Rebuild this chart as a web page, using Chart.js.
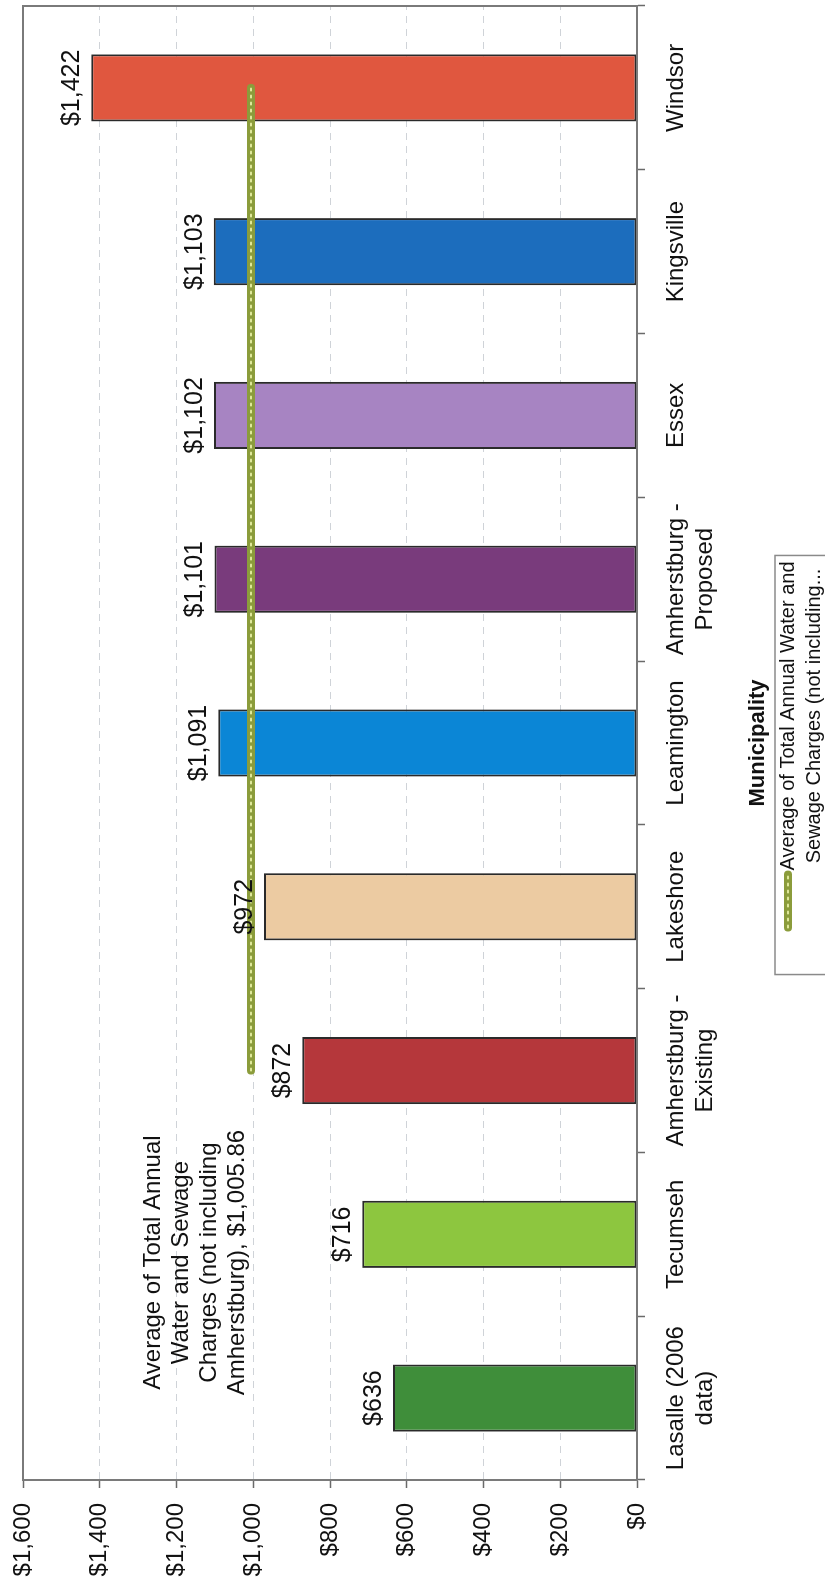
<!DOCTYPE html>
<html>
<head>
<meta charset="utf-8">
<script src="https://cdn.jsdelivr.net/npm/chart.js@4.4.1/dist/chart.umd.min.js"></script>
<style>
  body { margin: 0; width: 825px; height: 1583px; overflow: hidden; background: #fff; }
  #wrap {
    position: absolute; left: 0; top: 0; width: 1583px; height: 825px;
    transform-origin: 0 0; transform: translate(0, 1583px) rotate(-90deg);
  }
</style>
</head>
<body>
<div id="wrap"><canvas id="chargesChart" width="1583" height="825" style="width:1583px;height:825px"></canvas></div>
<script>
const municipalities = [
    ['Lasalle (2006', 'data)'],
    'Tecumseh',
    ['Amherstburg -', 'Existing'],
    'Lakeshore',
    'Leamington',
    ['Amherstburg -', 'Proposed'],
    'Essex',
    'Kingsville',
    'Windsor',
];
const annualCharges = [636, 716, 872, 972, 1091, 1101, 1102, 1103, 1422];
const barColors = ['#3f8e3a', '#8dc63f', '#b5373b', '#eccba2', '#0b86d6', '#793b7c', '#a784c2', '#1c6dbd', '#e0573f'];
const averageCharge = [null, null, 1005.86, 1005.86, 1005.86, 1005.86, 1005.86, 1005.86, 1005.86];
const averageNote = ['Average of Total Annual', 'Water and Sewage', 'Charges (not including', 'Amherstburg), $1,005.86'];
const legendText = ['Average of Total Annual Water and', 'Sewage Charges (not including...'];
const valueTicks = [0, 200, 400, 600, 800, 1000, 1200, 1400, 1600];

const FONT = '"Liberation Sans", Arial, sans-serif';

// wanted plot box on the unrotated canvas
const AREA = { left: 103, top: 23, right: 1577, bottom: 637 };
let yAxisWidth = 103;
let xAxisHeight = 134;

function money(v) {
    return '$' + v.toLocaleString('en-US');
}

// dotted olive line used for the average series and its legend key
function drawAvgStroke(ctx, x1, y1, x2, y2) {
    ctx.save();
    ctx.lineCap = 'round';
    ctx.strokeStyle = '#8b9c3b';
    ctx.lineWidth = 8;
    ctx.beginPath(); ctx.moveTo(x1, y1); ctx.lineTo(x2, y2); ctx.stroke();
    ctx.strokeStyle = '#dfe89a';
    ctx.lineWidth = 2;
    ctx.setLineDash([2, 5]);
    ctx.beginPath(); ctx.moveTo(x1, y1); ctx.lineTo(x2, y2); ctx.stroke();
    ctx.restore();
}

const framePlugin = {
    id: 'frame',
    afterDatasetsDraw(chart) {
        const { ctx, chartArea: a } = chart;
        ctx.save();
        ctx.strokeStyle = '#7a7a7a';
        ctx.lineWidth = 2;
        ctx.strokeRect(a.left, a.top, a.right - a.left, a.bottom - a.top);
        ctx.restore();
    },
};

const avgLinePlugin = {
    id: 'avgLine',
    afterDatasetsDraw(chart) {
        const pts = chart.getDatasetMeta(1).data.filter((p, i) => averageCharge[i] !== null);
        if (!pts.length) return;
        const first = pts[0], last = pts[pts.length - 1];
        drawAvgStroke(chart.ctx, first.x, first.y, last.x, last.y);
    },
};

const labelPlugin = {
    id: 'barLabels',
    afterDraw(chart) {
        const ctx = chart.ctx;
        ctx.save();
        ctx.fillStyle = '#111';
        ctx.font = '25px ' + FONT;
        ctx.textAlign = 'center';
        ctx.textBaseline = 'alphabetic';
        chart.getDatasetMeta(0).data.forEach((bar, i) => {
            ctx.fillText(money(annualCharges[i]), bar.x, bar.y - 12);
        });

        // note next to the start of the average line
        const pts = chart.getDatasetMeta(1).data.filter((p, i) => averageCharge[i] !== null);
        const p = pts[0];
        ctx.font = '24px ' + FONT;
        averageNote.forEach((line, i) => {
            ctx.fillText(line, p.x - 192, p.y - 7 - 28 * (averageNote.length - 1 - i));
        });
        ctx.restore();
    },
};

const legendPlugin = {
    id: 'boxLegend',
    afterDraw(chart) {
        const { ctx, chartArea: a } = chart;
        ctx.save();
        ctx.font = '20px ' + FONT;
        const textW = Math.max(...legendText.map(t => ctx.measureText(t).width));
        const boxW = 47 + 53 + 4 + textW + 6;
        const boxL = (a.left + a.right) / 2 - 22 - boxW / 2;
        const boxT = 775;
        ctx.strokeStyle = '#8a8a8a';
        ctx.lineWidth = 1.5;
        ctx.strokeRect(boxL, boxT, boxW, 120);
        const mx = boxL + 47;
        drawAvgStroke(ctx, mx, boxT + 13, mx + 53, boxT + 13);
        ctx.fillStyle = '#111';
        ctx.textAlign = 'center';
        ctx.textBaseline = 'middle';
        const cx = mx + 57 + textW / 2;
        legendText.forEach((t, i) => ctx.fillText(t, cx, boxT + 13 + 26 * i));
        ctx.restore();
    },
};

let ctx = document.getElementById('chargesChart').getContext('2d');
let chargesChart = new Chart(ctx, {
    type: 'bar',
    data: {
        labels: municipalities,
        datasets: [
            {
                label: 'Total Annual Water and Sewage Charges',
                data: annualCharges,
                backgroundColor: barColors,
                borderColor: '#2a2a2a',
                borderWidth: 2,
                borderSkipped: false,
                categoryPercentage: 1,
                barPercentage: 0.41,
                order: 2,
            },
            {
                label: 'Average of Total Annual Water and Sewage Charges (not including Amherstburg)',
                data: averageCharge,
                type: 'line',
                borderColor: 'rgba(0,0,0,0)',
                borderWidth: 0,
                pointRadius: 0,
                spanGaps: false,
                order: 1,
            },
        ],
    },
    options: {
        responsive: false,
        animation: false,
        devicePixelRatio: 1,
        layout: { padding: { top: AREA.top, right: 1583 - AREA.right, left: 0, bottom: 54 } },
        plugins: {
            legend: { display: false },
            tooltip: { enabled: false },
        },
        scales: {
            x: {
                offset: true,
                grid: {
                    offset: true,
                    drawOnChartArea: false,
                    tickLength: 8,
                    tickColor: '#6a6a6a',
                    tickWidth: 1.5,
                },
                border: { color: '#7a7a7a', width: 2 },
                ticks: {
                    color: '#111',
                    padding: 17,
                    font: { family: FONT, size: 24 },
                    maxRotation: 0,
                    autoSkip: false,
                },
                title: {
                    display: true,
                    text: 'Municipality',
                    color: '#111',
                    font: { family: FONT, size: 22, weight: 'bold' },
                    padding: { top: 0, bottom: 0 },
                },
                afterFit(scale) {
                    scale.height = xAxisHeight;
                    scale.paddingLeft = 0;
                    scale.paddingRight = 0;
                },
            },
            y: {
                min: 0,
                max: 1600,
                afterBuildTicks(scale) { scale.ticks = valueTicks.map(v => ({ value: v })); },
                grid: {
                    color: '#cfd3d8',
                    lineWidth: 1,
                    tickLength: 8,
                    tickColor: '#6a6a6a',
                    tickWidth: 1.5,
                    tickBorderDash: [],
                },
                border: { color: '#7a7a7a', width: 2, dash: [7, 6] },
                ticks: {
                    color: '#111',
                    padding: 15,
                    font: { family: FONT, size: 24 },
                    callback: v => money(v),
                },
                afterFit(scale) {
                    scale.width = yAxisWidth;
                    scale.paddingTop = 0;
                    scale.paddingBottom = 0;
                },
            },
        },
    },
    plugins: [framePlugin, avgLinePlugin, labelPlugin, legendPlugin],
});

// nudge the axis sizes until the plot box sits where the scan has it
for (let k = 0; k < 4; k++) {
    const a = chargesChart.chartArea;
    const dl = Math.round(a.left - AREA.left);
    const db = Math.round(a.bottom - AREA.bottom);
    if (!dl && !db) break;
    yAxisWidth = Math.max(20, yAxisWidth - dl);
    xAxisHeight = Math.max(20, xAxisHeight + db);
    chargesChart.update();
}
</script>
</body>
</html>
